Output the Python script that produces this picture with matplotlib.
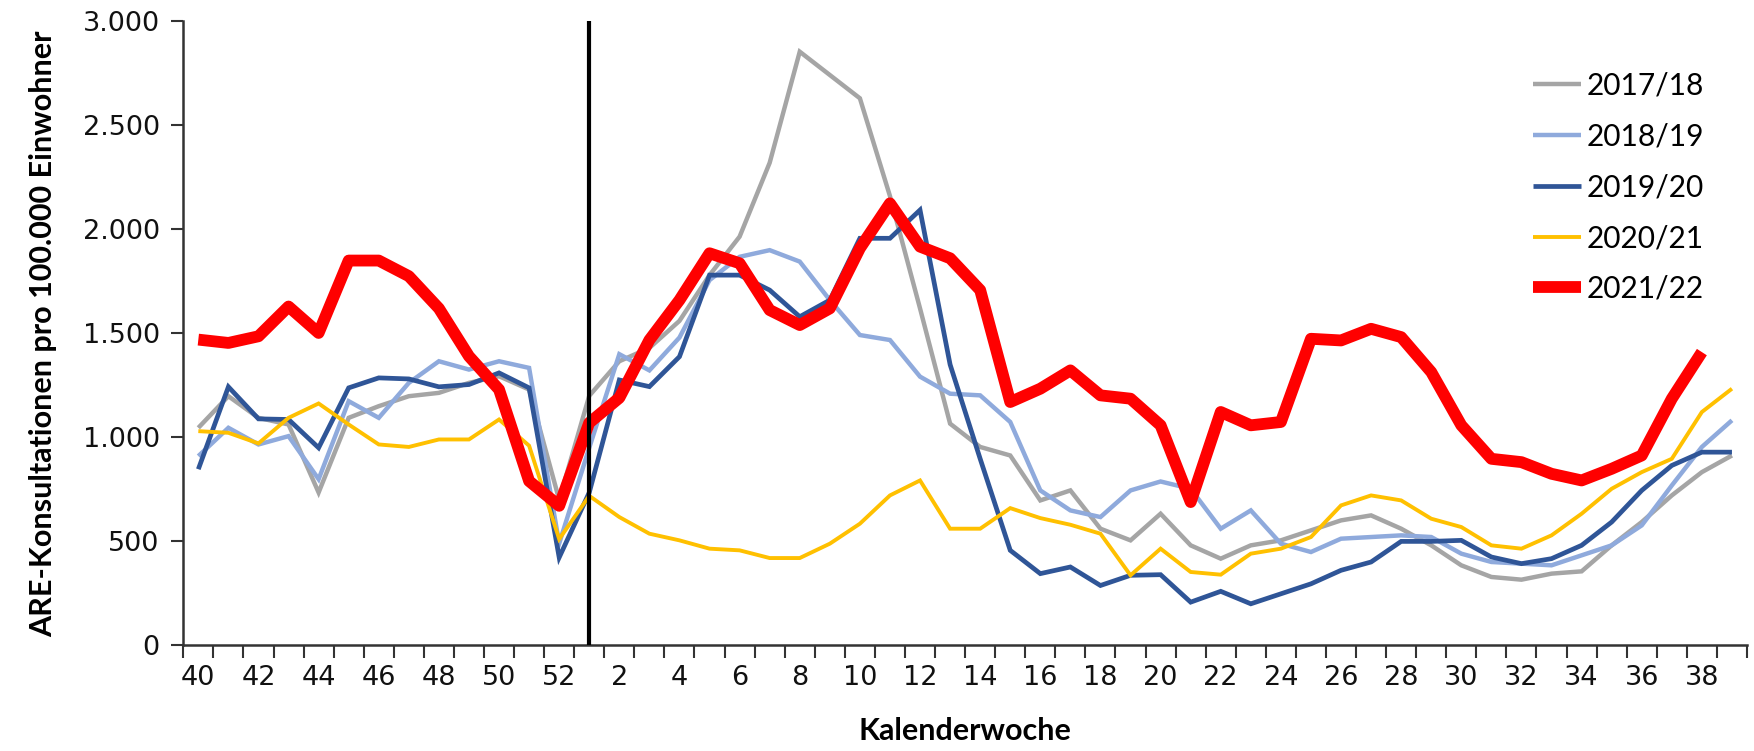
import numpy as np
import matplotlib
matplotlib.use("Agg")
import matplotlib.pyplot as plt
from matplotlib.ticker import FuncFormatter, FixedLocator

# calendar weeks 40..52 of the first year, then 1..39 of the next
weeks = list(range(40, 53)) + list(range(1, 40))

s_1718 = [1046, 1198, 1094, 1062, 735, 1094, 1150, 1198, 1214, 1262, 1294, 1230, 700,
          1200, 1366, 1430, 1560, 1780, 1965, 2320, 2854, 2742, 2630, 2160, 1620, 1066, 954,
          913, 697, 745, 561, 505, 633, 481, 417, 481, 505, 553, 601, 625, 561, 481, 385,
          329, 316, 345, 356, 481, 593, 721, 833, 913]
s_1819 = [910, 1046, 966, 1006, 799, 1174, 1094, 1262, 1366, 1326, 1366, 1334, 490,
          950, 1400, 1322, 1480, 1756, 1868, 1900, 1845, 1660, 1492, 1468, 1292, 1210, 1202,
          1074, 745, 649, 617, 745, 788, 753, 561, 649, 489, 449, 513, 521, 529, 521, 441,
          401, 393, 385, 433, 481, 577, 769, 954, 1082]
s_1920 = [847, 1243, 1089, 1086, 950, 1238, 1286, 1281, 1243, 1254, 1310, 1238, 423,
          735, 1276, 1244, 1388, 1780, 1780, 1708, 1580, 1660, 1957, 1957, 2093, 1350, 897,
          457, 345, 377, 288, 337, 340, 208, 260, 200, 248, 296, 361, 401, 500, 500, 505,
          425, 393, 417, 481, 593, 745, 865, 929, 929]
s_2021 = [1030, 1022, 971, 1094, 1163, 1062, 966, 954, 990, 990, 1086, 960, 511,
          719, 617, 537, 505, 465, 457, 420, 420, 489, 585, 721, 793, 561, 561,
          660, 612, 580, 537, 337, 465, 353, 340, 441, 465, 521, 673, 721, 697, 609, 569,
          481, 465, 529, 633, 753, 833, 897, 1122, 1234]
s_2122 = [1470, 1454, 1486, 1629, 1502, 1850, 1850, 1775, 1620, 1390, 1230, 790, 671,
          1070, 1190, 1468, 1660, 1885, 1837, 1612, 1540, 1620, 1909, 2125, 1917, 1861, 1708,
          1170, 1234, 1322, 1202, 1186, 1058, 689, 1122, 1058, 1074, 1474, 1466, 1522, 1482,
          1314, 1058, 897, 881, 825, 793, 849, 913, 1186, 1410, np.nan]

seasons = ["2017/18", "2018/19", "2019/20", "2020/21", "2021/22"]
series = [s_1718, s_1819, s_1920, s_2021, s_2122]
colors = ["#a5a5a5", "#8faadc", "#2f5597", "#ffc000", "#ff0000"]
widths = [3.2, 3.2, 3.4, 2.8, 8.5]

fig = plt.figure(figsize=(17.54, 7.51), dpi=100)
ax = fig.add_axes([0.1045, 0.1406, 0.8915, 0.831])

x = np.arange(len(weeks))
for name, vals, c, lw in zip(seasons, series, colors, widths):
    ax.plot(x, vals, color=c, lw=lw, label=name,
            solid_joinstyle="miter" if lw < 5 else "round", solid_capstyle="butt")

# marker for the turn of the year
ax.axvline(weeks.index(1), ymin=0, ymax=1, color="black", lw=3, zorder=5)

ax.set_xlim(-0.5, len(weeks) - 0.5)
ax.set_ylim(0, 3000)

# tick marks at category borders, labels in the middle of each week
ax.xaxis.set_major_locator(FixedLocator(np.arange(-0.5, len(weeks), 1)))
ax.xaxis.set_major_formatter(FuncFormatter(lambda v, p: ""))
ax.xaxis.set_minor_locator(FixedLocator(x[::2]))
ax.set_xticklabels([str(w) for w in weeks[::2]], minor=True)
ax.tick_params(axis="x", which="major", direction="out", length=9, width=1.5,
               color="#333333")
ax.tick_params(axis="x", which="minor", length=0, pad=14, labelsize=19.5,
               labelcolor="#111111")

ax.set_yticks(np.arange(0, 3001, 500))
ax.yaxis.set_major_formatter(FuncFormatter(lambda v, p: f"{int(v):,}".replace(",", ".")))
ax.tick_params(axis="y", direction="out", length=9, width=1.5, color="#333333",
               labelsize=19.5, labelcolor="#111111", pad=8)

for side in ["top", "right"]:
    ax.spines[side].set_visible(False)
for side in ["left", "bottom"]:
    ax.spines[side].set_linewidth(1.8)
    ax.spines[side].set_color("#333333")

ax.set_ylabel("ARE-Konsultationen pro 100.000 Einwohner", fontsize=22,
              fontweight="bold", family="Lato", labelpad=18)
ax.set_xlabel("Kalenderwoche", fontsize=22, fontweight="bold", family="Lato",
              labelpad=19)

leg = ax.legend(loc="upper right", bbox_to_anchor=(0.99, 0.962), frameon=False,
                prop={"family": "Lato", "size": 21.5}, handlelength=1.6,
                handletextpad=0.2, labelspacing=0.76)

fig.savefig("out.png", dpi=100)
